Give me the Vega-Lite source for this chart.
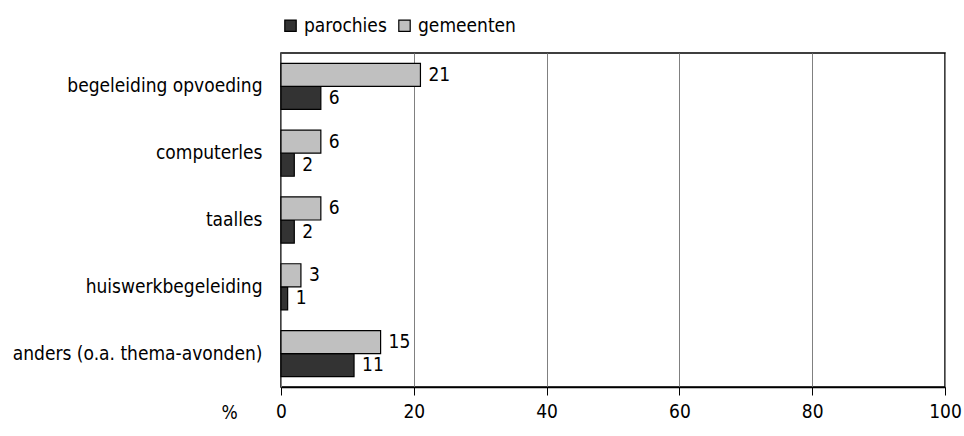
{
  "$schema": "https://vega.github.io/schema/vega-lite/v6.json",
  "width": 664,
  "height": 334,
  "autosize": {"type": "none"},
  "padding": {"left": 281, "top": 53, "right": 19, "bottom": 49},
  "background": "white",
  "config": {
    "font": "DejaVu Sans Condensed",
    "view": {"stroke": "black", "strokeWidth": 1.5}
  },
  "data": {
    "values": [
      {"cat": "begeleiding opvoeding", "groep": "parochies", "val": 6},
      {"cat": "begeleiding opvoeding", "groep": "gemeenten", "val": 21},
      {"cat": "computerles", "groep": "parochies", "val": 2},
      {"cat": "computerles", "groep": "gemeenten", "val": 6},
      {"cat": "taalles", "groep": "parochies", "val": 2},
      {"cat": "taalles", "groep": "gemeenten", "val": 6},
      {"cat": "huiswerkbegeleiding", "groep": "parochies", "val": 1},
      {"cat": "huiswerkbegeleiding", "groep": "gemeenten", "val": 3},
      {"cat": "anders (o.a. thema-avonden)", "groep": "parochies", "val": 11},
      {"cat": "anders (o.a. thema-avonden)", "groep": "gemeenten", "val": 15}
    ]
  },
  "encoding": {
    "y": {
      "field": "cat",
      "type": "nominal",
      "sort": null,
      "scale": {"paddingInner": 0.31, "paddingOuter": 0.155},
      "axis": {
        "title": null,
        "ticks": false,
        "domain": false,
        "labelFontSize": 19,
        "labelColor": "black",
        "labelPadding": 19,
        "labelLimit": 300
      }
    },
    "yOffset": {"field": "groep", "sort": ["gemeenten", "parochies"]},
    "x": {
      "field": "val",
      "type": "quantitative",
      "scale": {"domain": [0, 100]},
      "axis": {
        "values": [0, 20, 40, 60, 80, 100],
        "title": "%",
        "titleFontWeight": "normal",
        "titleFontSize": 19,
        "titleColor": "black",
        "titleX": -60,
        "titleY": 25,
        "titleAnchor": "start",
        "titleAlign": "left",
        "titleBaseline": "middle",
        "labelFontSize": 19,
        "labelColor": "black",
        "labelPadding": 7,
        "labelFlush": false,
        "domainColor": "black",
        "domainWidth": 1.5,
        "tickColor": "black",
        "tickSize": 8,
        "grid": true,
        "gridColor": "#808080",
        "gridWidth": 1
      }
    }
  },
  "layer": [
    {
      "mark": {"type": "bar", "stroke": "black", "strokeWidth": 1.2},
      "encoding": {
        "color": {
          "field": "groep",
          "type": "nominal",
          "scale": {"domain": ["parochies", "gemeenten"], "range": ["#333333", "#c0c0c0"]},
          "legend": {
            "title": null,
            "orient": "top",
            "direction": "horizontal",
            "symbolType": "square",
            "symbolSize": 130,
            "symbolStrokeColor": "black",
            "symbolStrokeWidth": 1.2,
            "labelFontSize": 19,
            "labelColor": "black",
            "columnPadding": 8,
            "offset": 17
          }
        }
      }
    },
    {
      "mark": {"type": "text", "align": "left", "baseline": "middle", "dx": 8, "fontSize": 19, "color": "black"},
      "encoding": {"text": {"field": "val", "type": "quantitative"}}
    }
  ]
}
